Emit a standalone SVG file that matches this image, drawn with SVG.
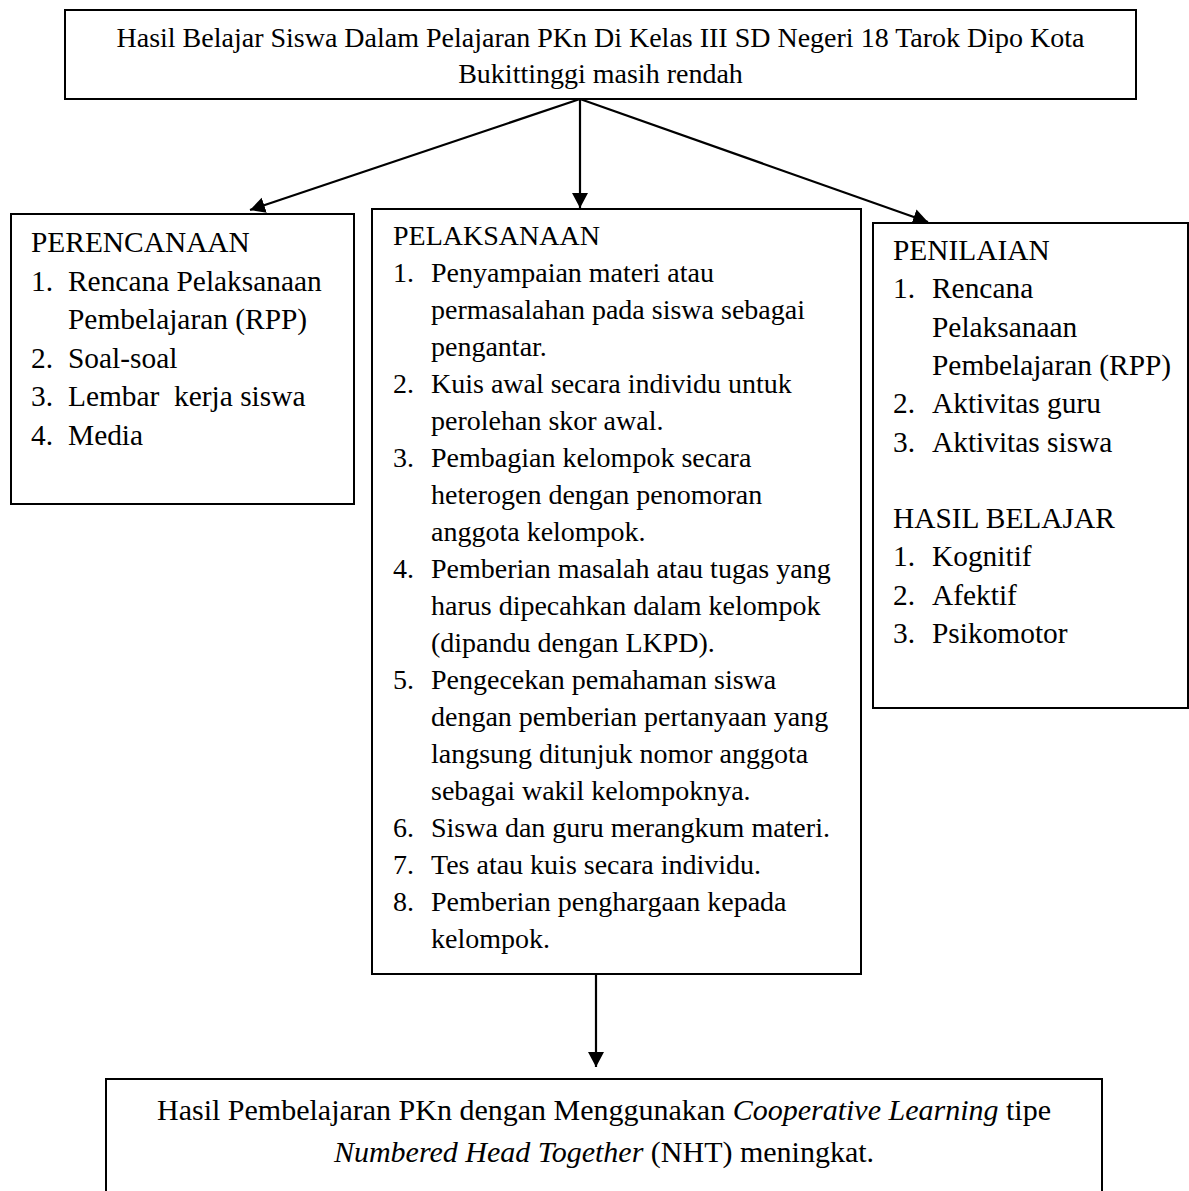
<svg xmlns="http://www.w3.org/2000/svg" width="1189" height="1191" viewBox="0 0 1189 1191">
<defs>
<style>
.box{fill:#fff;stroke:#000;stroke-width:2}
.t{font-family:"Liberation Serif","Times New Roman",serif;font-size:28px;fill:#000}
.s{font-size:29.4px}
.b{font-size:30px}
.c{text-anchor:middle}
.i{font-style:italic}
.conn{stroke:#000;stroke-width:2.2;fill:none}
</style>
<marker id="ah" markerUnits="userSpaceOnUse" markerWidth="17" markerHeight="17" refX="15" refY="8" orient="auto">
<path d="M0,0 L15,8 L0,16 z" fill="#000"/>
</marker>
</defs>
<rect width="1189" height="1191" fill="#fff"/>

<g id="connectors">
<line class="conn" x1="580" y1="99" x2="250" y2="210" marker-end="url(#ah)"/>
<line class="conn" x1="580" y1="99" x2="580" y2="208" marker-end="url(#ah)"/>
<line class="conn" x1="580" y1="99" x2="928" y2="222" marker-end="url(#ah)"/>
<line class="conn" x1="596" y1="974" x2="596" y2="1067" marker-end="url(#ah)"/>
</g>

<g id="node-top">
<rect class="box" x="65" y="10" width="1071" height="89"/>
<text class="t c" x="600.5" y="47">Hasil Belajar Siswa Dalam Pelajaran PKn Di Kelas III SD Negeri 18 Tarok Dipo Kota</text>
<text class="t c" x="600.5" y="83">Bukittinggi masih rendah</text>
</g>

<g id="node-perencanaan">
<rect class="box" x="11" y="214" width="343" height="290"/>
<text class="t s" x="31" y="252">PERENCANAAN</text>
<text class="t s" x="31" y="290.5">1.</text><text class="t s" x="68" y="290.5">Rencana Pelaksanaan</text>
<text class="t s" x="68" y="329">Pembelajaran (RPP)</text>
<text class="t s" x="31" y="367.5">2.</text><text class="t s" x="68" y="367.5">Soal-soal</text>
<text class="t s" x="31" y="406">3.</text><text class="t s" x="68" y="406" xml:space="preserve">Lembar  kerja siswa</text>
<text class="t s" x="31" y="444.5">4.</text><text class="t s" x="68" y="444.5">Media</text>
</g>

<g id="node-pelaksanaan">
<rect class="box" x="372" y="209" width="489" height="765"/>
<text class="t" x="393" y="245">PELAKSANAAN</text>
<text class="t" x="393" y="282">1.</text><text class="t" x="431" y="282">Penyampaian materi atau</text>
<text class="t" x="431" y="319">permasalahan pada siswa sebagai</text>
<text class="t" x="431" y="356">pengantar.</text>
<text class="t" x="393" y="393">2.</text><text class="t" x="431" y="393">Kuis awal secara individu untuk</text>
<text class="t" x="431" y="430">perolehan skor awal.</text>
<text class="t" x="393" y="467">3.</text><text class="t" x="431" y="467">Pembagian kelompok secara</text>
<text class="t" x="431" y="504">heterogen dengan penomoran</text>
<text class="t" x="431" y="541">anggota kelompok.</text>
<text class="t" x="393" y="578">4.</text><text class="t" x="431" y="578">Pemberian masalah atau tugas yang</text>
<text class="t" x="431" y="615">harus dipecahkan dalam kelompok</text>
<text class="t" x="431" y="652">(dipandu dengan LKPD).</text>
<text class="t" x="393" y="689">5.</text><text class="t" x="431" y="689">Pengecekan pemahaman siswa</text>
<text class="t" x="431" y="726">dengan pemberian pertanyaan yang</text>
<text class="t" x="431" y="763">langsung ditunjuk nomor anggota</text>
<text class="t" x="431" y="800">sebagai wakil kelompoknya.</text>
<text class="t" x="393" y="837">6.</text><text class="t" x="431" y="837">Siswa dan guru merangkum materi.</text>
<text class="t" x="393" y="874">7.</text><text class="t" x="431" y="874">Tes atau kuis secara individu.</text>
<text class="t" x="393" y="911">8.</text><text class="t" x="431" y="911">Pemberian penghargaan kepada</text>
<text class="t" x="431" y="948">kelompok.</text>
</g>

<g id="node-penilaian">
<rect class="box" x="873" y="223" width="315" height="485"/>
<text class="t s" x="893" y="260">PENILAIAN</text>
<text class="t s" x="893" y="298.3">1.</text><text class="t s" x="932" y="298.3">Rencana</text>
<text class="t s" x="932" y="336.6">Pelaksanaan</text>
<text class="t s" x="932" y="374.9">Pembelajaran (RPP)</text>
<text class="t s" x="893" y="413.2">2.</text><text class="t s" x="932" y="413.2">Aktivitas guru</text>
<text class="t s" x="893" y="451.5">3.</text><text class="t s" x="932" y="451.5">Aktivitas siswa</text>
<text class="t s" x="893" y="528.1">HASIL BELAJAR</text>
<text class="t s" x="893" y="566.4">1.</text><text class="t s" x="932" y="566.4">Kognitif</text>
<text class="t s" x="893" y="604.7">2.</text><text class="t s" x="932" y="604.7">Afektif</text>
<text class="t s" x="893" y="643">3.</text><text class="t s" x="932" y="643">Psikomotor</text>
</g>

<g id="node-hasil">
<rect class="box" x="106" y="1079" width="996" height="140"/>
<text class="t b c" x="604" y="1120">Hasil Pembelajaran PKn dengan Menggunakan <tspan class="i">Cooperative Learning</tspan> tipe</text>
<text class="t b c" x="604" y="1162"><tspan class="i">Numbered Head Together</tspan> (NHT) meningkat.</text>
</g>
</svg>
